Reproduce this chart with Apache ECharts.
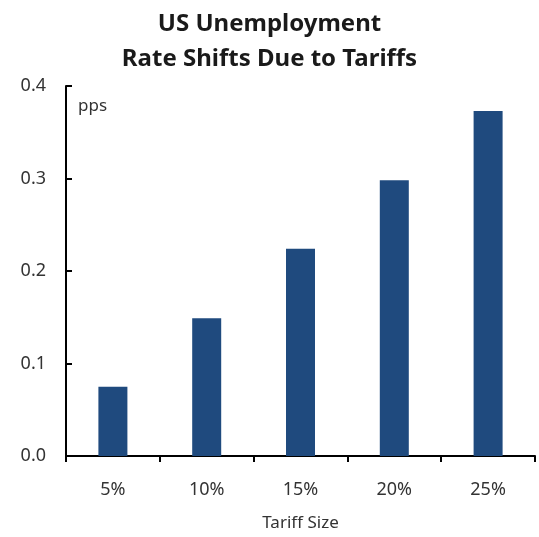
<!DOCTYPE html>
<html>
<head>
<meta charset="utf-8">
<script src="https://cdn.jsdelivr.net/npm/echarts@6/dist/echarts.min.js"></script>
<style>
    html, body { margin: 0; padding: 0; background: #fff; }
    #main { width: 539px; height: 537px; }
</style>
</head>
<body>
<div id="main"></div>
<script>
// tariff size categories and unemployment rate shift (pps)
var categories = ['5%', '10%', '15%', '20%', '25%'];
var shiftValues = [0.075, 0.149, 0.224, 0.298, 0.373];
var yTicks = [0, 0.1, 0.2, 0.3, 0.4];

var chart = echarts.init(document.getElementById('main'));
var font = 'Noto Sans';
option = {
    backgroundColor: '#fff',
    animation: false,
    title: {
        text: 'US Unemployment\nRate Shifts Due to Tariffs',
        left: 'center',
        top: 2,
        textStyle: {
            fontFamily: font,
            fontWeight: 'bold',
            fontSize: 24,
            lineHeight: 35,
            color: '#1a1a1a'
        }
    },
    graphic: [{
        type: 'text',
        left: 78,
        top: 98,
        style: {
            text: 'pps',
            fontFamily: font,
            fontSize: 17,
            fill: '#333'
        }
    }],
    grid: {
        left: 66,
        right: 4,
        top: 86,
        bottom: 81
    },
    xAxis: {
        type: 'category',
        data: categories,
        name: 'Tariff Size',
        nameLocation: 'middle',
        nameGap: 59,
        nameTextStyle: {
            fontFamily: font,
            fontSize: 17,
            color: '#333'
        },
        axisLine: {
            lineStyle: { color: '#000', width: 2 }
        },
        axisTick: {
            show: true,
            length: 6,
            lineStyle: { color: '#000', width: 2 }
        },
        axisLabel: {
            margin: 25,
            fontFamily: font,
            fontSize: 18,
            color: '#333'
        }
    },
    yAxis: {
        type: 'value',
        min: yTicks[0],
        max: yTicks[yTicks.length - 1],
        interval: 0.1,
        splitLine: { show: false },
        axisLine: {
            show: true,
            lineStyle: { color: '#000', width: 2 }
        },
        axisTick: {
            show: true,
            inside: true,
            length: 6,
            lineStyle: { color: '#000', width: 2 }
        },
        axisLabel: {
            margin: 20,
            fontFamily: font,
            fontSize: 18,
            color: '#333',
            formatter: function (v) {
                return v.toFixed(1);
            }
        }
    },
    series: [{
        type: 'bar',
        data: shiftValues,
        barWidth: 29,
        itemStyle: {
            color: '#1f4a7e'
        }
    }]
};
chart.setOption(option);
</script>
</body>
</html>
